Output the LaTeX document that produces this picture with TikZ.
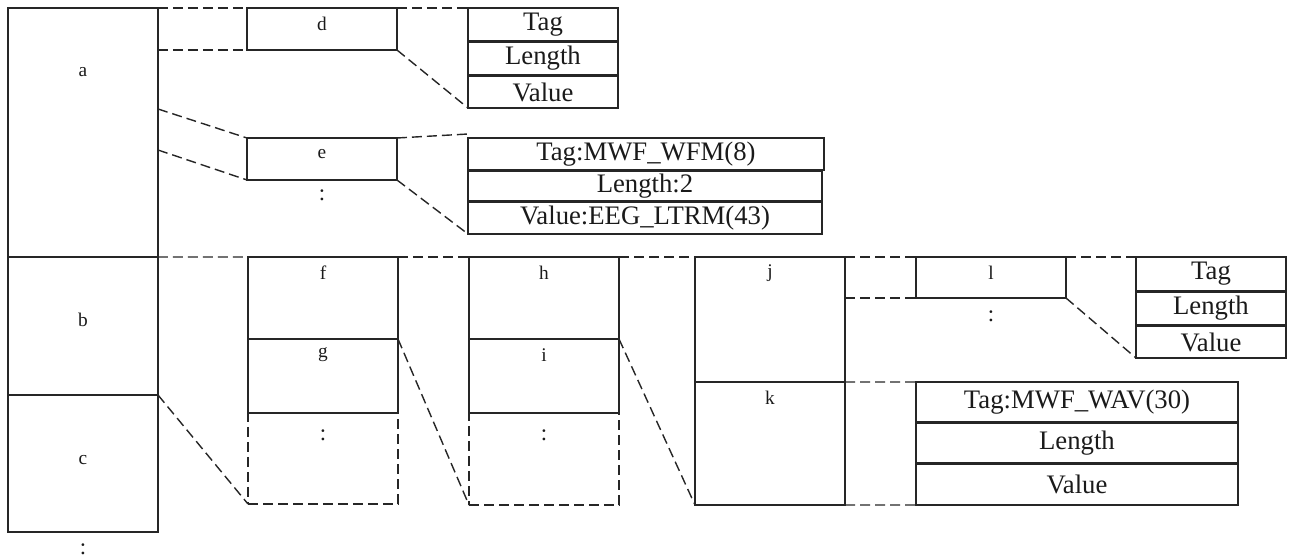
\documentclass[tikz,border=0pt]{standalone}
\usepackage{fontspec}
\setmainfont{Liberation Serif}
\usepackage{tikz}
\usetikzlibrary{positioning, calc}
\definecolor{mLine}{HTML}{262626}
\definecolor{mText}{HTML}{1A1A1A}

\tikzset{
  box/.style={draw=mLine, line width=0.4pt, minimum width=15mm, inner sep=0pt, outer sep=0pt, anchor=north west},
  morebox/.style={box, dash pattern=on 1mm off 0.5mm},
  tlv/.style={box, font=\fontsize{7.6}{8}\selectfont, text=mText},
  lbl/.style={font=\fontsize{5.5}{6}\selectfont, text=mText, inner sep=0pt},
  dots/.style={font=\fontsize{6.5}{7}\selectfont, text=mText, inner sep=0pt},
  link/.style={draw=mLine, line width=0.4pt, dash pattern=on 1mm off 0.5mm}
}

\begin{document}
\begin{tikzpicture}[x=0.1mm, y=-0.1mm]
    \useasboundingbox (0,0) rectangle (1294,557);
    % left column
    \node[box, minimum height=24.9mm] (a) at (8,8) {};
    \node[box, minimum height=13.8mm, below=0pt of a] (b) {};
    \node[box, minimum height=13.7mm, below=0pt of b] (c) {};
    \node[lbl] (alab) at ([yshift=-6.4mm]a.north) {a};
    \node[lbl] (blab) at ([yshift=0.6mm]b.center) {b};
    \node[lbl] (clab) at ([yshift=0.3mm]c.center) {c};
    \node[dots] (cdots) at ([yshift=-1.7mm]c.south) {:};
    % second column
    \node[box, minimum height=4.2mm] (d) at (247,8) {};
    \node[box, minimum height=4.2mm] (e) at (247,138) {};
    \node[dots] (edots) at ([yshift=-1.5mm]e.south) {:};
    \node[box, minimum height=8.2mm] (f) at (248,257) {};
    \node[box, minimum height=7.4mm, below=0pt of f] (g) {};
    \node[morebox, minimum height=9.1mm, below=0pt of g] (fmore) {};
    \node[dots] (fdots) at ([yshift=-2.2mm]fmore.north) {:};
    % third column
    \node[tlv, minimum height=3.3mm] (t1a) at (468,8) {Tag};
    \node[tlv, minimum height=3.3mm, below=0.1mm of t1a] (t1b) {Length};
    \node[tlv, minimum height=3.2mm, below=0.1mm of t1b] (t1c) {Value};
    \node[tlv, minimum width=35.6mm, minimum height=3.2mm] (t2a) at (468,138) {Tag:MWF\_WFM(8)};
    \node[tlv, minimum width=35.4mm, minimum height=3.0mm, below=0.1mm of t2a.south west, anchor=north west] (t2b) {Length:2};
    \node[tlv, minimum width=35.4mm, minimum height=3.2mm, below=0.1mm of t2b] (t2c) {Value:EEG\_LTRM(43)};
    \node[box, minimum height=8.2mm] (h) at (469,257) {};
    \node[box, minimum height=7.4mm, below=0pt of h] (i) {};
    \node[morebox, minimum height=9.2mm, below=0pt of i] (imore) {};
    \node[dots] (idots) at ([yshift=-2.2mm]imore.north) {:};
    % fourth column
    \node[box, minimum height=12.5mm] (j) at (695,257) {};
    \node[box, minimum height=12.3mm, below=0pt of j] (k) {};
    % fifth column
    \node[box, minimum height=4.1mm] (l) at (916,257) {};
    \node[dots] (ldots) at ([yshift=-1.8mm]l.south) {:};
    \node[tlv, minimum width=32.2mm, minimum height=4.0mm] (t3a) at (916,382) {Tag:MWF\_WAV(30)};
    \node[tlv, minimum width=32.2mm, minimum height=4.0mm, below=0.1mm of t3a] (t3b) {Length};
    \node[tlv, minimum width=32.2mm, minimum height=4.1mm, below=0.1mm of t3b] (t3c) {Value};
    % last column
    \node[tlv, minimum height=3.4mm] (t4a) at (1136,257) {Tag};
    \node[tlv, minimum height=3.3mm, below=0.1mm of t4a] (t4b) {Length};
    \node[tlv, minimum height=3.2mm, below=0.1mm of t4b] (t4c) {Value};
    % box letters
    \foreach \n in {d,e,f,g,h,i,j,k,l}
      \node[lbl] (\n lab) at ([yshift=-1.6mm]\n.north) {\n};
    % free ends on the edge of a and above the second field list
    \coordinate (aeTop) at (158,109);
    \coordinate (aeBot) at (158,150);
    \coordinate (tTop) at (468,134);
    % dashed expansions
    \foreach \p/\q in {a.north east/d.north west, a.north east |- d.south west/d.south west,
        aeTop/e.north west, aeBot/e.south west,
        d.north east/t1a.north west, d.south east/t1c.south west,
        e.north east/tTop, e.south east/t2c.south west,
        b.north east/f.north west, f.north east/h.north west, h.north east/j.north west,
        j.north east/l.north west, j.north east |- l.south west/l.south west,
        l.north east/t4a.north west, l.south east/t4c.south west,
        k.north east/t3a.north west, k.south east/t3c.south west,
        c.north east/fmore.south west, g.north east/imore.south west, i.north east/k.south west}
      \draw[link] (\p) -- (\q);
\end{tikzpicture}
\end{document}
